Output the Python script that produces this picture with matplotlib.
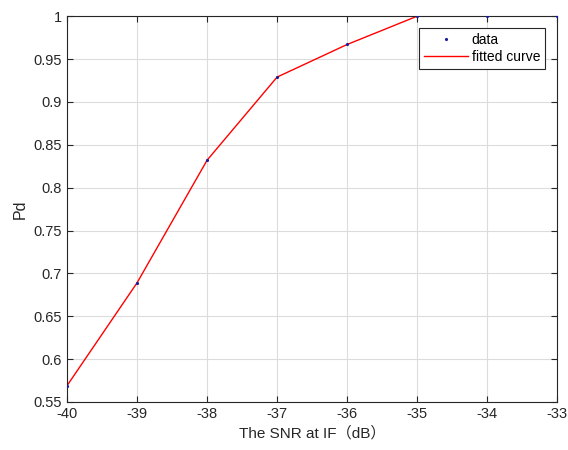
import matplotlib
matplotlib.use("Agg")
import matplotlib.pyplot as plt

snr = [-40, -39, -38, -37, -36, -35, -34, -33]
pd_vals = [0.569, 0.689, 0.832, 0.929, 0.967, 1.0, 1.0, 1.0]
xticks = [-40, -39, -38, -37, -36, -35, -34, -33]
yticks = [0.55, 0.6, 0.65, 0.7, 0.75, 0.8, 0.85, 0.9, 0.95, 1.0]
ytick_labels = ["0.55", "0.6", "0.65", "0.7", "0.75", "0.8", "0.85", "0.9", "0.95", "1"]

plt.rcParams['font.family'] = ['Liberation Sans', 'Noto Sans CJK SC', 'DejaVu Sans']

fig = plt.figure(figsize=(5.68, 4.5), dpi=100)
ax = fig.add_axes([0.118, 0.1067, 0.863, 0.8573])
ax.plot(snr, pd_vals, '.', color='#1a1aa0', markersize=2.5, label='data', zorder=3)
ax.plot(snr, pd_vals, '-', color='#ff0000', linewidth=1.0, label='fitted curve', zorder=2)
ax.set_xlim(-40, -33)
ax.set_ylim(0.55, 1.0)
ax.set_xticks(xticks)
ax.set_xticklabels([str(t) for t in xticks])
ax.set_yticks(yticks)
ax.set_yticklabels(ytick_labels)
ax.grid(True, color='#dcdcdc', linewidth=0.8)
ax.set_axisbelow(True)
ax.tick_params(direction='in', length=4, labelsize=10.5, colors='#262626', top=True, right=True)
for s in ax.spines.values():
    s.set_color('#262626')
    s.set_linewidth(0.8)
ax.set_xlabel('The SNR at IF（dB）', fontsize=11, color='#262626')
ax.set_ylabel('Pd', fontsize=11.5, color='#262626')
leg = ax.legend(loc='upper right', bbox_to_anchor=(0.9755, 0.969), fontsize=10,
                fancybox=False, framealpha=1, edgecolor='#262626', borderpad=0.35,
                handlelength=3.2, handletextpad=0.25, labelspacing=0.2, borderaxespad=0)
leg.get_frame().set_linewidth(0.8)
fig.savefig('out.png', dpi=100)
